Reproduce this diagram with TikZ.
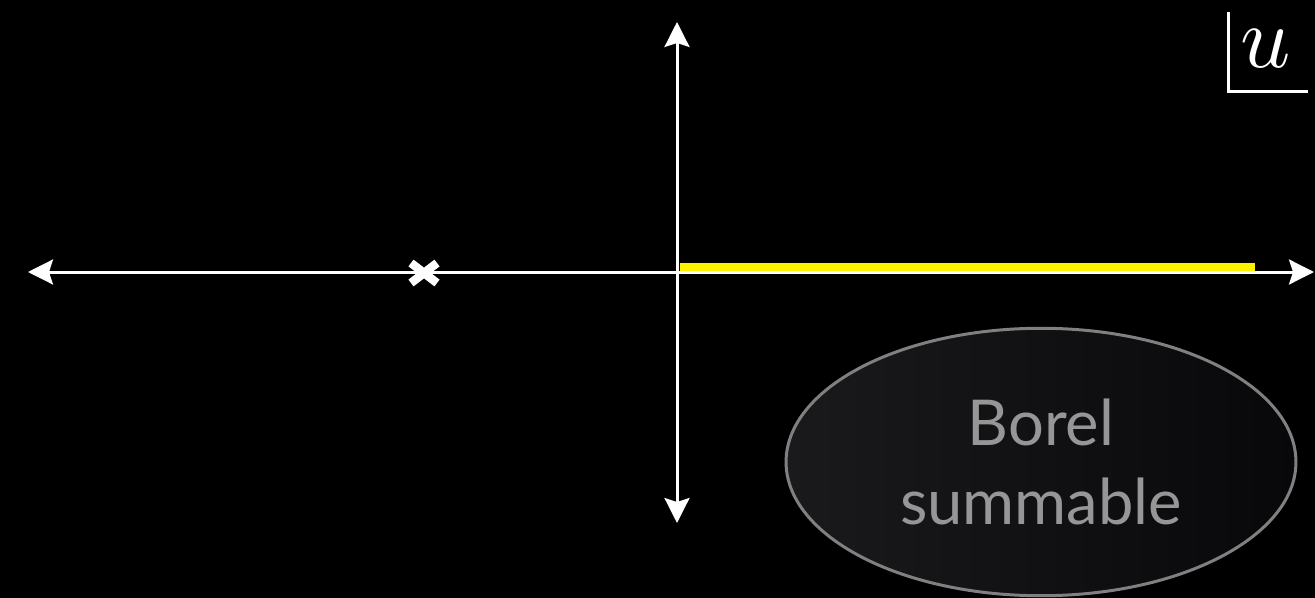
\documentclass[tikz,border=0pt]{standalone}
\usepackage{fontspec}
\usepackage{tikz}
\usetikzlibrary{arrows.meta, shapes.geometric}
\newfontfamily\borelfont{Lato}
\definecolor{axisWhite}{RGB}{255, 255, 255}
\definecolor{cutYellow}{RGB}{255, 240, 0}
\definecolor{blobEdge}{RGB}{128, 128, 128}
\definecolor{blobText}{RGB}{150, 150, 150}
\definecolor{blobLeft}{RGB}{26, 26, 28}
\definecolor{blobRight}{RGB}{8, 8, 10}

\tikzset{
  axis/.style={axisWhite, line width=0.06cm,
    -{Stealth[length=0.5cm, width=0.5cm, inset=0.08cm]}},
  blob/.style={ellipse, draw=blobEdge, line width=0.06cm,
    left color=blobLeft, right color=blobRight,
    minimum width=10.2cm, minimum height=5.35cm,
    text=blobText, align=center,
    font=\borelfont\fontsize{36}{45}\selectfont}
}

\begin{document}
\begin{tikzpicture}[x=0.02cm, y=-0.02cm]
      \fill[black] (0,0) rectangle (1315,598);
      \useasboundingbox (0,0) rectangle (1315,598);

      \coordinate (O) at (677,272);
      \coordinate (W) at (28,272);
      \coordinate (E) at (1314,272);
      \coordinate (N) at (677,22);
      \coordinate (S) at (677,523);

      \draw[axis] (O) -- (W);
      \draw[axis] (O) -- (E);
      \draw[axis] (O) -- (N);
      \draw[axis] (O) -- (S);

      % branch cut on the positive axis
      \coordinate (cutA) at (680,267);
      \coordinate (cutB) at (1255,267);
      \draw[cutYellow, line width=0.16cm] (cutA) -- (cutB);

      % singularity
      \coordinate (pole) at (424,273);
      \draw[axisWhite, line width=0.17cm]
        ([shift={(-13,-10)}]pole) -- ([shift={(13,10)}]pole)
        ([shift={(-13,10)}]pole) -- ([shift={(13,-10)}]pole);

      % plane label
      \node[scale=5, inner sep=0pt, text=axisWhite] (lbl) at (1266,49) {$u$};
      \draw[axisWhite, line width=0.06cm] (1228,12) -- (1228,92) -- (1308,92);

      \node[blob] (borel) at (1041,462) {Borel\\summable};
    \end{tikzpicture}
\end{document}
